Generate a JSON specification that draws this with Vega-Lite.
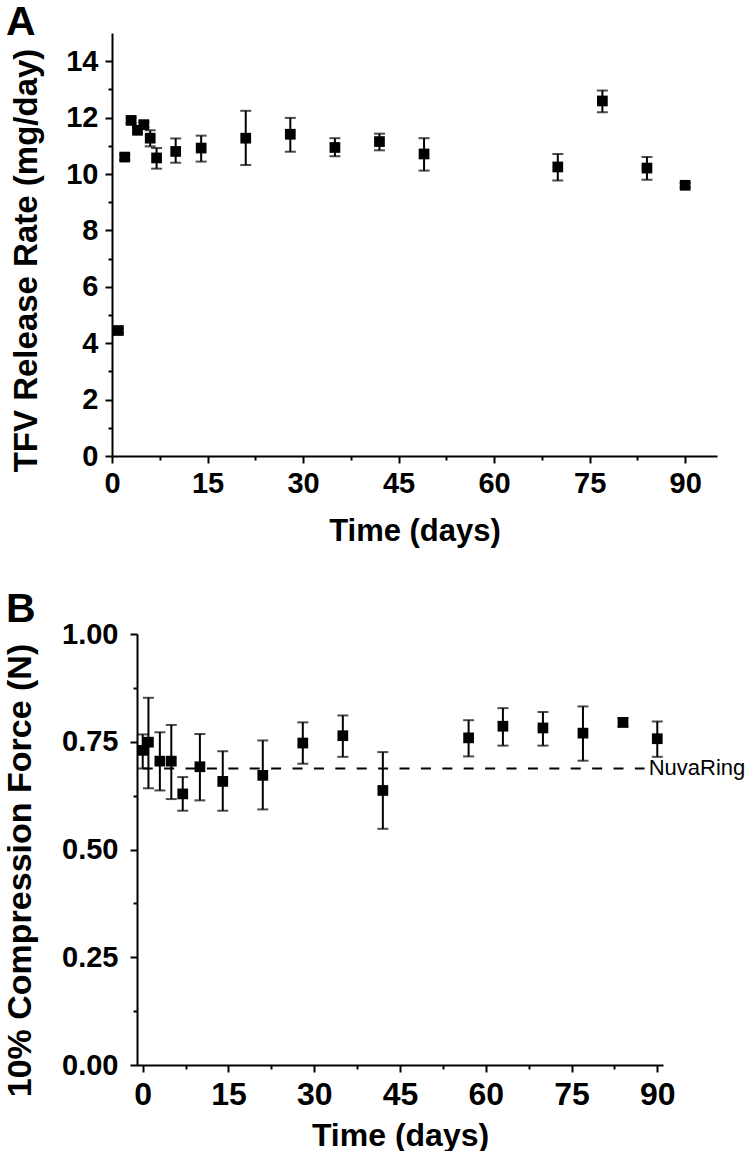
{
  "$schema": "https://vega.github.io/schema/vega-lite/v6.json",
  "background": "white",
  "padding": {"left": 3, "top": 2, "right": 2, "bottom": 0},
  "config": {
    "view": {"stroke": null},
    "axis": {
      "domainColor": "#000", "domainWidth": 2, "tickColor": "#000", "tickWidth": 2,
      "labelFont": "Liberation Sans", "labelFontWeight": "bold", "labelColor": "#000",
      "titleFont": "Liberation Sans", "titleFontWeight": "bold", "titleColor": "#000",
      "grid": false, "labelOverlap": false, "labelFlush": false, "labelBound": false
    },
    "title": {"font": "Liberation Sans", "fontWeight": "bold", "fontSize": 41, "color": "#000", "anchor": "start", "frame": "group"}
  },
  "datasets": {
    "release": [
      {"day": 1, "rate": 4.45, "lo": 4.37, "hi": 4.53},
      {"day": 2, "rate": 10.6, "lo": 10.5, "hi": 10.7},
      {"day": 3, "rate": 11.9, "lo": 11.8, "hi": 12.0},
      {"day": 4, "rate": 11.55, "lo": 11.45, "hi": 11.65},
      {"day": 5, "rate": 11.75, "lo": 11.65, "hi": 11.85},
      {"day": 6, "rate": 11.27, "lo": 10.98, "hi": 11.55},
      {"day": 7, "rate": 10.57, "lo": 10.19, "hi": 10.92},
      {"day": 10, "rate": 10.8, "lo": 10.4, "hi": 11.26},
      {"day": 14, "rate": 10.92, "lo": 10.44, "hi": 11.36},
      {"day": 21, "rate": 11.27, "lo": 10.32, "hi": 12.24},
      {"day": 28, "rate": 11.41, "lo": 10.79, "hi": 11.99},
      {"day": 35, "rate": 10.94, "lo": 10.63, "hi": 11.27},
      {"day": 42, "rate": 11.15, "lo": 10.84, "hi": 11.43},
      {"day": 49, "rate": 10.71, "lo": 10.12, "hi": 11.27},
      {"day": 70, "rate": 10.25, "lo": 9.77, "hi": 10.71},
      {"day": 77, "rate": 12.59, "lo": 12.19, "hi": 12.96},
      {"day": 84, "rate": 10.21, "lo": 9.8, "hi": 10.6},
      {"day": 90, "rate": 9.6, "lo": 9.52, "hi": 9.68}
    ],
    "compression": [
      {"day": 0, "force": 0.73, "lo": 0.688, "hi": 0.767},
      {"day": 1, "force": 0.749, "lo": 0.642, "hi": 0.852},
      {"day": 3, "force": 0.705, "lo": 0.637, "hi": 0.772},
      {"day": 5, "force": 0.705, "lo": 0.617, "hi": 0.789},
      {"day": 7, "force": 0.629, "lo": 0.59, "hi": 0.668},
      {"day": 10, "force": 0.692, "lo": 0.614, "hi": 0.768},
      {"day": 14, "force": 0.658, "lo": 0.59, "hi": 0.728},
      {"day": 21, "force": 0.672, "lo": 0.593, "hi": 0.753},
      {"day": 28, "force": 0.747, "lo": 0.699, "hi": 0.795},
      {"day": 35, "force": 0.764, "lo": 0.715, "hi": 0.811},
      {"day": 42, "force": 0.637, "lo": 0.548, "hi": 0.726},
      {"day": 57, "force": 0.759, "lo": 0.716, "hi": 0.8},
      {"day": 63, "force": 0.786, "lo": 0.741, "hi": 0.828},
      {"day": 70, "force": 0.782, "lo": 0.741, "hi": 0.819},
      {"day": 77, "force": 0.77, "lo": 0.706, "hi": 0.832},
      {"day": 84, "force": 0.795, "lo": 0.785, "hi": 0.805},
      {"day": 90, "force": 0.757, "lo": 0.715, "hi": 0.797}
    ],
    "nuva": [
      {"start": 0, "end": 87.78, "label_x": 88.5, "force": 0.688, "label": "NuvaRing"}
    ]
  },
  "spacing": 42,
  "vconcat": [
    {
      "width": 580,
      "height": 423,
      "title": {"text": "A", "dx": -131, "offset": -43, "baseline": "alphabetic"},
      "data": {"name": "release"},
      "encoding": {
        "x": {
          "field": "day", "type": "quantitative",
          "scale": {"domain": [0, 95], "nice": false, "zero": false, "range": [-25, 580]},
          "axis": {
            "title": "Time (days)",
            "values": [0, 7.5, 15, 22.5, 30, 37.5, 45, 52.5, 60, 67.5, 75, 82.5, 90],
            "labelExpr": "datum.value % 15 === 0 ? datum.label : ''",
            "tickSize": {"condition": {"test": "datum.value % 15 !== 0", "value": 4}, "value": 7},
            "labelFontSize": 29, "labelPadding": 6,
            "titleFontSize": 31, "titlePadding": 18
          }
        }
      },
      "layer": [
        {
          "mark": {"type": "errorbar", "ticks": {"size": 11, "thickness": 2, "color": "#000"}, "rule": {"strokeWidth": 2, "color": "#000"}},
          "encoding": {
            "y": {
              "field": "lo", "type": "quantitative",
              "scale": {"domain": [0, 15], "nice": false, "zero": true},
              "axis": {
                "title": "TFV Release Rate (mg/day)",
                "offset": 25,
                "values": [0, 1, 2, 3, 4, 5, 6, 7, 8, 9, 10, 11, 12, 13, 14],
                "labelExpr": "datum.value % 2 === 0 ? datum.label : ''",
                "tickSize": {"condition": {"test": "datum.value % 2 !== 0", "value": 4}, "value": 7},
                "labelFontSize": 29, "labelPadding": 7,
                "titleFontSize": 33, "titlePadding": 22, "titleY": 227
              }
            },
            "y2": {"field": "hi"}
          }
        },
        {
          "mark": {"type": "square", "size": 115, "color": "#000", "opacity": 1},
          "encoding": {
            "y": {
              "field": "rate", "type": "quantitative",
              "scale": {"domain": [0, 15], "nice": false, "zero": true},
              "axis": {
                "title": "TFV Release Rate (mg/day)",
                "offset": 25,
                "values": [0, 1, 2, 3, 4, 5, 6, 7, 8, 9, 10, 11, 12, 13, 14],
                "labelExpr": "datum.value % 2 === 0 ? datum.label : ''",
                "tickSize": {"condition": {"test": "datum.value % 2 !== 0", "value": 4}, "value": 7},
                "labelFontSize": 29, "labelPadding": 7,
                "titleFontSize": 33, "titlePadding": 22, "titleY": 227
              }
            }
          }
        }
      ]
    },
    {
      "width": 526,
      "height": 431,
      "title": {"text": "B", "dx": -131, "offset": -42.5, "baseline": "alphabetic"},
      "encoding": {
        "x": {
          "field": "day", "type": "quantitative",
          "scale": {"domain": [-1, 91], "nice": false, "zero": false},
          "axis": {
            "title": "Time (days)",
            "values": [0, 7.5, 15, 22.5, 30, 37.5, 45, 52.5, 60, 67.5, 75, 82.5, 90],
            "labelExpr": "datum.value % 15 === 0 ? datum.label : ''",
            "tickSize": {"condition": {"test": "datum.value % 15 !== 0", "value": 4}, "value": 7},
            "labelFontSize": 32, "labelPadding": 7,
            "titleFontSize": 32, "titlePadding": 10
          }
        },
        "y": {
          "type": "quantitative",
          "scale": {"domain": [0, 1], "nice": false, "zero": true},
          "axis": {
            "title": "10% Compression Force (N)",
            "values": [0, 0.125, 0.25, 0.375, 0.5, 0.625, 0.75, 0.875, 1],
            "format": ".2f",
            "labelExpr": "(datum.value * 1000) % 250 === 0 ? datum.label : ''",
            "tickSize": {"condition": {"test": "(datum.value * 1000) % 250 !== 0", "value": 4}, "value": 7},
            "labelFontSize": 29, "labelPadding": 12,
            "titleFontSize": 34, "titlePadding": 24, "titleY": 236
          }
        }
      },
      "layer": [
        {
          "data": {"name": "nuva"},
          "mark": {"type": "rule", "strokeWidth": 2, "color": "#000", "strokeDash": [10, 11.4]},
          "encoding": {
            "x": {"field": "start", "type": "quantitative"},
            "x2": {"field": "end"},
            "y": {"field": "force", "type": "quantitative"}
          }
        },
        {
          "data": {"name": "nuva"},
          "mark": {"type": "text", "align": "left", "baseline": "middle", "font": "Liberation Sans", "fontSize": 22, "color": "#000"},
          "encoding": {
            "x": {"field": "label_x", "type": "quantitative"},
            "y": {"field": "force", "type": "quantitative"},
            "text": {"field": "label"}
          }
        },
        {
          "data": {"name": "compression"},
          "mark": {"type": "errorbar", "ticks": {"size": 11, "thickness": 2, "color": "#000"}, "rule": {"strokeWidth": 2, "color": "#000"}},
          "encoding": {
            "x": {"field": "day", "type": "quantitative"},
            "y": {"field": "lo", "type": "quantitative"},
            "y2": {"field": "hi"}
          }
        },
        {
          "data": {"name": "compression"},
          "mark": {"type": "square", "size": 115, "color": "#000", "opacity": 1},
          "encoding": {
            "x": {"field": "day", "type": "quantitative"},
            "y": {"field": "force", "type": "quantitative"}
          }
        }
      ]
    }
  ]
}
